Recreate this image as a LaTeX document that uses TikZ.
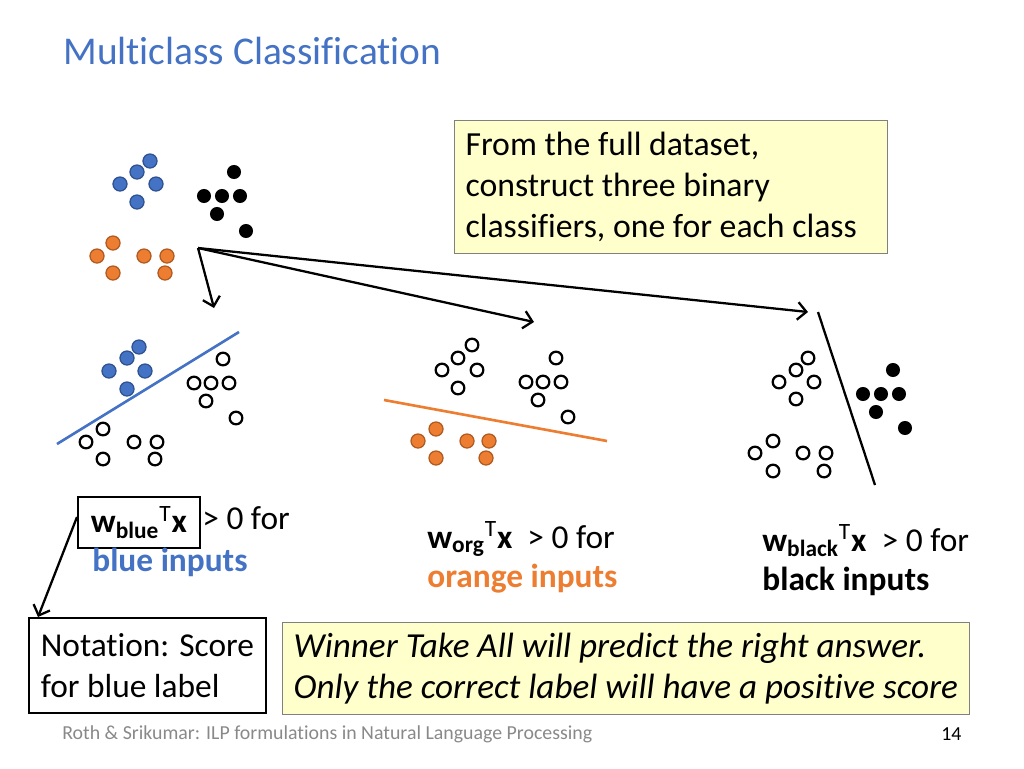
\documentclass[tikz,border=0pt]{standalone}
\usepackage{fontspec}
\setmainfont{Carlito}[Ligatures={NoCommon,NoContextual}]
\usetikzlibrary{arrows.meta}
\definecolor{titleblue}{RGB}{68,114,196}
\definecolor{dotblue}{RGB}{68,114,196}
\definecolor{dotblueedge}{RGB}{47,82,143}
\definecolor{dotorange}{RGB}{237,125,49}
\definecolor{dotorangeedge}{RGB}{174,90,33}
\definecolor{noteyellow}{RGB}{255,255,204}
\definecolor{boxgray}{RGB}{128,128,128}
\definecolor{footgray}{RGB}{137,137,137}
\begin{document}
\begin{tikzpicture}[x=0.02cm, y=-0.02cm,
    >={Straight Barb[length=5pt, width=10pt]},
    every node/.style={inner sep=0pt, font=\fontsize{19}{23.4}\selectfont},
    bdot/.style={fill=dotblue, draw=dotblueedge, line width=0.7pt},
    odot/.style={fill=dotorange, draw=dotorangeedge, line width=0.7pt},
    kdot/.style={fill=black},
    hole/.style={draw=black, line width=1.3pt, fill=white},
    note/.style={draw=boxgray, fill=noteyellow, line width=0.6pt, align=flush left},
    arr/.style={->, line width=1.3pt}]

    \useasboundingbox (0,0) rectangle (1024,768);

    \node [anchor=base west, text=titleblue, font=\fontsize{22.4}{27}\selectfont] (title) at (63,64) {Multiclass Classification};

    % full dataset
    \foreach \x/\y in {150/161, 137/172, 120/184, 156/184, 137/202}
        \draw [bdot] (\x,\y) circle (4pt);
    \foreach \x/\y in {234/172, 204/196, 222/196, 240/196, 217/214, 246/231}
        \fill [kdot] (\x,\y) circle (4pt);
    \foreach \x/\y in {113/243, 97/256, 144/256, 167/256, 113/273, 165/273}
        \draw [odot] (\x,\y) circle (4pt);

    \coordinate (src) at (198,248);
    \coordinate (tipblue) at (214,308);
    \coordinate (tiporg) at (534,322);
    \coordinate (tipblack) at (808,312);
    \draw [arr] (src) -- (tipblue);
    \draw [arr] (src) -- (tiporg);
    \draw [arr] (src) -- (tipblack);

    \node [note, anchor=north west, minimum width=8.66cm, minimum height=2.66cm,
        text width=8.22cm, inner xsep=0.22cm, font=\fontsize{19.2}{23.4}\selectfont] (task) at (454,120)
        {From the full dataset,\\construct three binary\\classifiers, one for each class};

    % blue classifier
    \draw [line width=1.5pt, dotblue] (57,444) -- (239,332);
    \foreach \x/\y in {139/347, 127/358, 109/371, 145/371, 127/389}
        \draw [bdot] (\x,\y) circle (4pt);
    \foreach \x/\y in {223/359, 194/383, 211/383, 229/383, 206/401, 236/418,
                       103/429, 86/442, 134/442, 157/442, 103/459, 155/459}
        \draw [hole] (\x,\y) circle (3.6pt);

    % orange classifier
    \draw [line width=1.5pt, dotorange] (384,400) -- (607,441);
    \foreach \x/\y in {472/345, 458/358, 442/370, 477/370, 458/388,
                       556/358, 526/382, 543/382, 561/382, 538/400, 568/417}
        \draw [hole] (\x,\y) circle (3.6pt);
    \foreach \x/\y in {436/429, 418/441, 467/441, 489/441, 436/458, 486/458}
        \draw [odot] (\x,\y) circle (4pt);

    % black classifier
    \draw [line width=1.3pt] (818,312) -- (875,485);
    \foreach \x/\y in {808/358, 796/370, 779/382, 814/382, 796/399,
                       773/441, 755/453, 803/453, 826/453, 773/471, 824/471}
        \draw [hole] (\x,\y) circle (3.6pt);
    \foreach \x/\y in {893/370, 863/394, 881/394, 899/394, 876/412, 905/428}
        \fill [kdot] (\x,\y) circle (4pt);

    % scores
    \node [draw, line width=1.1pt, anchor=north west, minimum width=2.44cm, minimum height=1.02cm] (lblblue) at (77,496)
        {\textbf{w}\textsubscript{\textbf{blue}}\textsuperscript{T}\textbf{x}};
    \node [anchor=base west] (gtblue) at (202,529) {> 0 for};
    \node [anchor=base west, text=dotblue, font=\fontsize{19}{23.4}\selectfont\bfseries] (inblue) at (92,571) {blue inputs};

    \node [anchor=base west] (lblorg) at (427,548)
        {\textbf{w}\textsubscript{\textbf{org}}\textsuperscript{T}\textbf{x}\ \ > 0 for};
    \node [anchor=base west, text=dotorange, font=\fontsize{19}{23.4}\selectfont\bfseries] (inorg) at (427,587) {orange inputs};

    \node [anchor=base west] (lblblack) at (762,551)
        {\textbf{w}\textsubscript{\textbf{black}}\textsuperscript{T}\textbf{x}\ \ > 0 for};
    \node [anchor=base west, font=\fontsize{19}{23.4}\selectfont\bfseries] (inblack) at (762,590) {black inputs};

    % notes at the bottom
    \node [draw, line width=1.1pt, anchor=north west, minimum width=4.74cm, minimum height=1.9cm,
        align=left] (notation) at (28,617)
        {Notation: Score\\for blue label};
    \draw [arr] (lblblue.west |- 0,517) -- (notation.north west -| 38,0);

    \node [note, anchor=north west, minimum width=13.74cm, minimum height=1.84cm,
        text width=13.3cm, inner xsep=0.22cm, font=\fontsize{20}{23}\selectfont\itshape] (wta) at (282,622)
        {Winner Take All will predict the right answer.\\Only the correct label will have a positive score};

    \node [anchor=base west, text=footgray, font=\fontsize{11.3}{13.5}\selectfont] (footer) at (62,739)
        {Roth \& Srikumar: ILP formulations in Natural Language Processing};
    \node [anchor=base west, font=\fontsize{11.3}{13.5}\selectfont] (pagenum) at (941,740) {14};
\end{tikzpicture}
\end{document}
